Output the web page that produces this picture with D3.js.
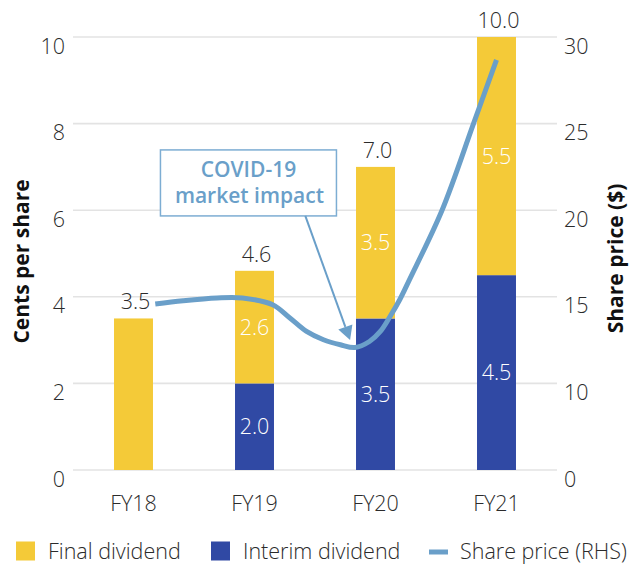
<!DOCTYPE html>
<html>
<head>
<meta charset="utf-8">
<script src="https://cdn.jsdelivr.net/npm/d3@7"></script>
<style>
  html, body { margin: 0; padding: 0; background: #fff; }
  svg { display: block; font-family: "Open Sans", "DejaVu Sans", sans-serif; }
</style>
</head>
<body>
<svg id="chart" width="634" height="567"></svg>
<script>
// ---- data ----
const categories = ["FY18", "FY19", "FY20", "FY21"];
const interimDividend = [0, 2.0, 3.5, 4.5];
const finalDividend = [3.5, 2.6, 3.5, 5.5];
const totalDividend = [3.5, 4.6, 7.0, 10.0];
const leftTickValues = [0, 2, 4, 6, 8, 10];
const rightTickValues = [5, 10, 15, 20, 25, 30];
const rightTickLabels = ["0", "10", "15", "20", "25", "30"];
// share price path, x in fiscal-year index units (0 = FY18 ... 3 = FY21)
const priceIndex = [0.18, 0.41, 0.69, 0.90, 1.15, 1.29, 1.43, 1.57, 1.71, 1.83, 1.95, 2.04, 2.12, 2.20, 2.28, 2.55, 2.81, 3.0];
const sharePrice = [14.58, 14.77, 14.93, 14.93, 14.54, 13.79, 13.0, 12.52, 12.23, 12.07, 12.42, 13.0, 13.86, 14.83, 15.98, 20.0, 25.0, 28.68];
const annotationLines = ["COVID-19", "market impact"];
const annotationBox = { index: 0.95, value: 6.63 };          // box centre (index, cents)
const annotationArrow = { fromIndex: 1.42, toIndex: 1.79, toPrice: 12.5 };
const legendItems = [
  { label: "Final dividend", type: "rect", color: "#F4CA38" },
  { label: "Interim dividend", type: "rect", color: "#3049A4" },
  { label: "Share price (RHS)", type: "line", color: "#6A9FC9" }
];

// ---- styles ----
const COLORS = { final: "#F4CA38", interim: "#3049A4", price: "#6A9FC9", grid: "#e3e3e3", text: "#2b2b2b", note: "#6A9FC9", noteBox: "#7DADD3" };
const plot = { left: 73, right: 557, top: 37, bottom: 470 };
const FS = 21.5;

const svg = d3.select("#chart");

const x = d3.scaleBand().domain(categories).range([plot.left, plot.right])
  .paddingInner(0.678).paddingOuter(0.339);
const xIdx = d3.scaleLinear().domain([0, categories.length - 1])
  .range([x(categories[0]) + x.bandwidth() / 2, x(categories[categories.length - 1]) + x.bandwidth() / 2]);
const yL = d3.scaleLinear().domain([0, 10]).range([plot.bottom, plot.top]);
const yR = d3.scaleLinear().domain([5, 30]).range([plot.bottom, plot.top]);

// gridlines
svg.append("g").selectAll("line").data(leftTickValues).join("line")
  .attr("x1", plot.left).attr("x2", plot.right)
  .attr("y1", d => yL(d)).attr("y2", d => yL(d))
  .attr("stroke", COLORS.grid).attr("stroke-width", 1.6);

// left axis
const leftAxis = d3.axisLeft(yL).tickValues(leftTickValues).tickSize(0).tickPadding(8).tickFormat(d3.format("d"));
const gL = svg.append("g").attr("transform", `translate(${plot.left},0)`).call(leftAxis);
gL.select(".domain").remove();
gL.selectAll("text").attr("dy", "0.75em").attr("font-size", FS).attr("font-weight", 300)
  .attr("fill", COLORS.text).attr("font-family", "'Open Sans', sans-serif");

// right axis
const rightAxis = d3.axisRight(yR).tickValues(rightTickValues).tickSize(0).tickPadding(7)
  .tickFormat((d, i) => rightTickLabels[i]);
const gR = svg.append("g").attr("transform", `translate(${plot.right},0)`).call(rightAxis);
gR.select(".domain").remove();
gR.selectAll("text").attr("dy", "0.75em").attr("font-size", FS).attr("font-weight", 300)
  .attr("fill", COLORS.text).attr("font-family", "'Open Sans', sans-serif");

// bottom axis
const bottomAxis = d3.axisBottom(x).tickSize(0).tickPadding(26);
const gB = svg.append("g").attr("transform", `translate(0,${plot.bottom})`).call(bottomAxis);
gB.select(".domain").remove();
gB.selectAll("text").attr("font-size", FS).attr("font-weight", 300)
  .attr("fill", COLORS.text).attr("font-family", "'Open Sans', sans-serif");

// axis titles
svg.append("text").attr("transform", `translate(21,${(plot.top + plot.bottom) / 2 + 8}) rotate(-90)`)
  .attr("text-anchor", "middle").attr("dominant-baseline", "central")
  .attr("font-size", 21).attr("font-weight", 700).attr("fill", "#111").text("Cents per share");
svg.append("text").attr("transform", `translate(615,${(plot.top + plot.bottom) / 2 + 5}) rotate(-90)`)
  .attr("text-anchor", "middle").attr("dominant-baseline", "central")
  .attr("font-size", 21).attr("font-weight", 700).attr("fill", "#111").text("Share price ($)");

// stacked bars
const stackData = categories.map((c, i) => ({ cat: c, interim: interimDividend[i], final: finalDividend[i] }));
const series = d3.stack().keys(["interim", "final"])(stackData);
const barG = svg.append("g");
series.forEach(s => {
  barG.append("g").attr("fill", s.key === "interim" ? COLORS.interim : COLORS.final)
    .selectAll("rect").data(s).join("rect")
    .attr("x", d => x(d.data.cat)).attr("width", x.bandwidth())
    .attr("y", d => yL(d[1])).attr("height", d => yL(d[0]) - yL(d[1]));
});

// inner labels
series.forEach(s => {
  svg.append("g").selectAll("text").data(s.filter(d => d[1] - d[0] > 0 && d.data.interim > 0)).join("text")
    .attr("x", d => x(d.data.cat) + x.bandwidth() / 2)
    .attr("y", d => (yL(d[0]) + yL(d[1])) / 2)
    .attr("dy", "0.36em").attr("text-anchor", "middle")
    .attr("font-size", FS).attr("font-weight", 300).attr("fill", "#fff")
    .text(d => d3.format(".1f")(d[1] - d[0]));
});

// share price line
const line = d3.line().x((d, i) => xIdx(priceIndex[i])).y(d => yR(d)).curve(d3.curveCatmullRom.alpha(0.5));
svg.append("path").datum(sharePrice).attr("d", line)
  .attr("fill", "none").attr("stroke", COLORS.price).attr("stroke-width", 5);

// total labels
svg.append("g").selectAll("text").data(categories).join("text")
  .attr("x", d => x(d) + x.bandwidth() / 2 + 2)
  .attr("y", (d, i) => yL(totalDividend[i]) - 9)
  .attr("text-anchor", "middle").attr("font-size", FS).attr("font-weight", 300).attr("fill", COLORS.text)
  .text((d, i) => d3.format(".1f")(totalDividend[i]));

// annotation
const bx = xIdx(annotationBox.index), by = yL(annotationBox.value);
const boxW = 176, boxH = 66;
svg.append("rect").attr("x", bx - boxW / 2).attr("y", by - boxH / 2).attr("width", boxW).attr("height", boxH)
  .attr("fill", "#fff").attr("stroke", COLORS.noteBox).attr("stroke-width", 1.5);
svg.append("text").attr("x", bx).attr("y", by - 6).attr("text-anchor", "middle")
  .attr("font-size", 21).attr("font-weight", 600).attr("fill", COLORS.note).text(annotationLines[0]);
svg.append("text").attr("x", bx + 1).attr("y", by + 20).attr("text-anchor", "middle")
  .attr("font-size", 21).attr("font-weight", 600).attr("fill", COLORS.note).text(annotationLines[1]);
const ax1 = xIdx(annotationArrow.fromIndex), ay1 = by + boxH / 2;
const ax2 = xIdx(annotationArrow.toIndex), ay2 = yR(annotationArrow.toPrice);
const ang = Math.atan2(ay2 - ay1, ax2 - ax1);
const headLen = 14, headW = 7.5;
const bxh = ax2 - headLen * Math.cos(ang), byh = ay2 - headLen * Math.sin(ang);
svg.append("line").attr("x1", ax1).attr("y1", ay1).attr("x2", bxh).attr("y2", byh)
  .attr("stroke", COLORS.note).attr("stroke-width", 2);
svg.append("path").attr("d", d3.line()([
  [ax2, ay2],
  [bxh + headW * Math.sin(ang), byh - headW * Math.cos(ang)],
  [bxh - headW * Math.sin(ang), byh + headW * Math.cos(ang)]
])).attr("fill", COLORS.note);

// legend
const legendX = [16, 211, 429];
const legendY = 551;
const lg = svg.append("g");
legendItems.forEach((it, i) => {
  const g = lg.append("g").attr("transform", `translate(${legendX[i]},${legendY})`);
  if (it.type === "rect") {
    g.append("rect").attr("x", 0).attr("y", -9.5).attr("width", 19).attr("height", 19).attr("fill", it.color);
    g.append("text").attr("x", 32).attr("y", 0).attr("dy", "0.36em").attr("font-size", 21.5).attr("font-weight", 300)
      .attr("fill", COLORS.text).text(it.label);
  } else {
    g.append("line").attr("x1", 0).attr("x2", 19).attr("y1", 1).attr("y2", 1).attr("stroke", it.color).attr("stroke-width", 5);
    g.append("text").attr("x", 31).attr("y", 0).attr("dy", "0.36em").attr("font-size", 21.5).attr("font-weight", 300)
      .attr("fill", COLORS.text).text(it.label);
  }
});
</script>
</body>
</html>
